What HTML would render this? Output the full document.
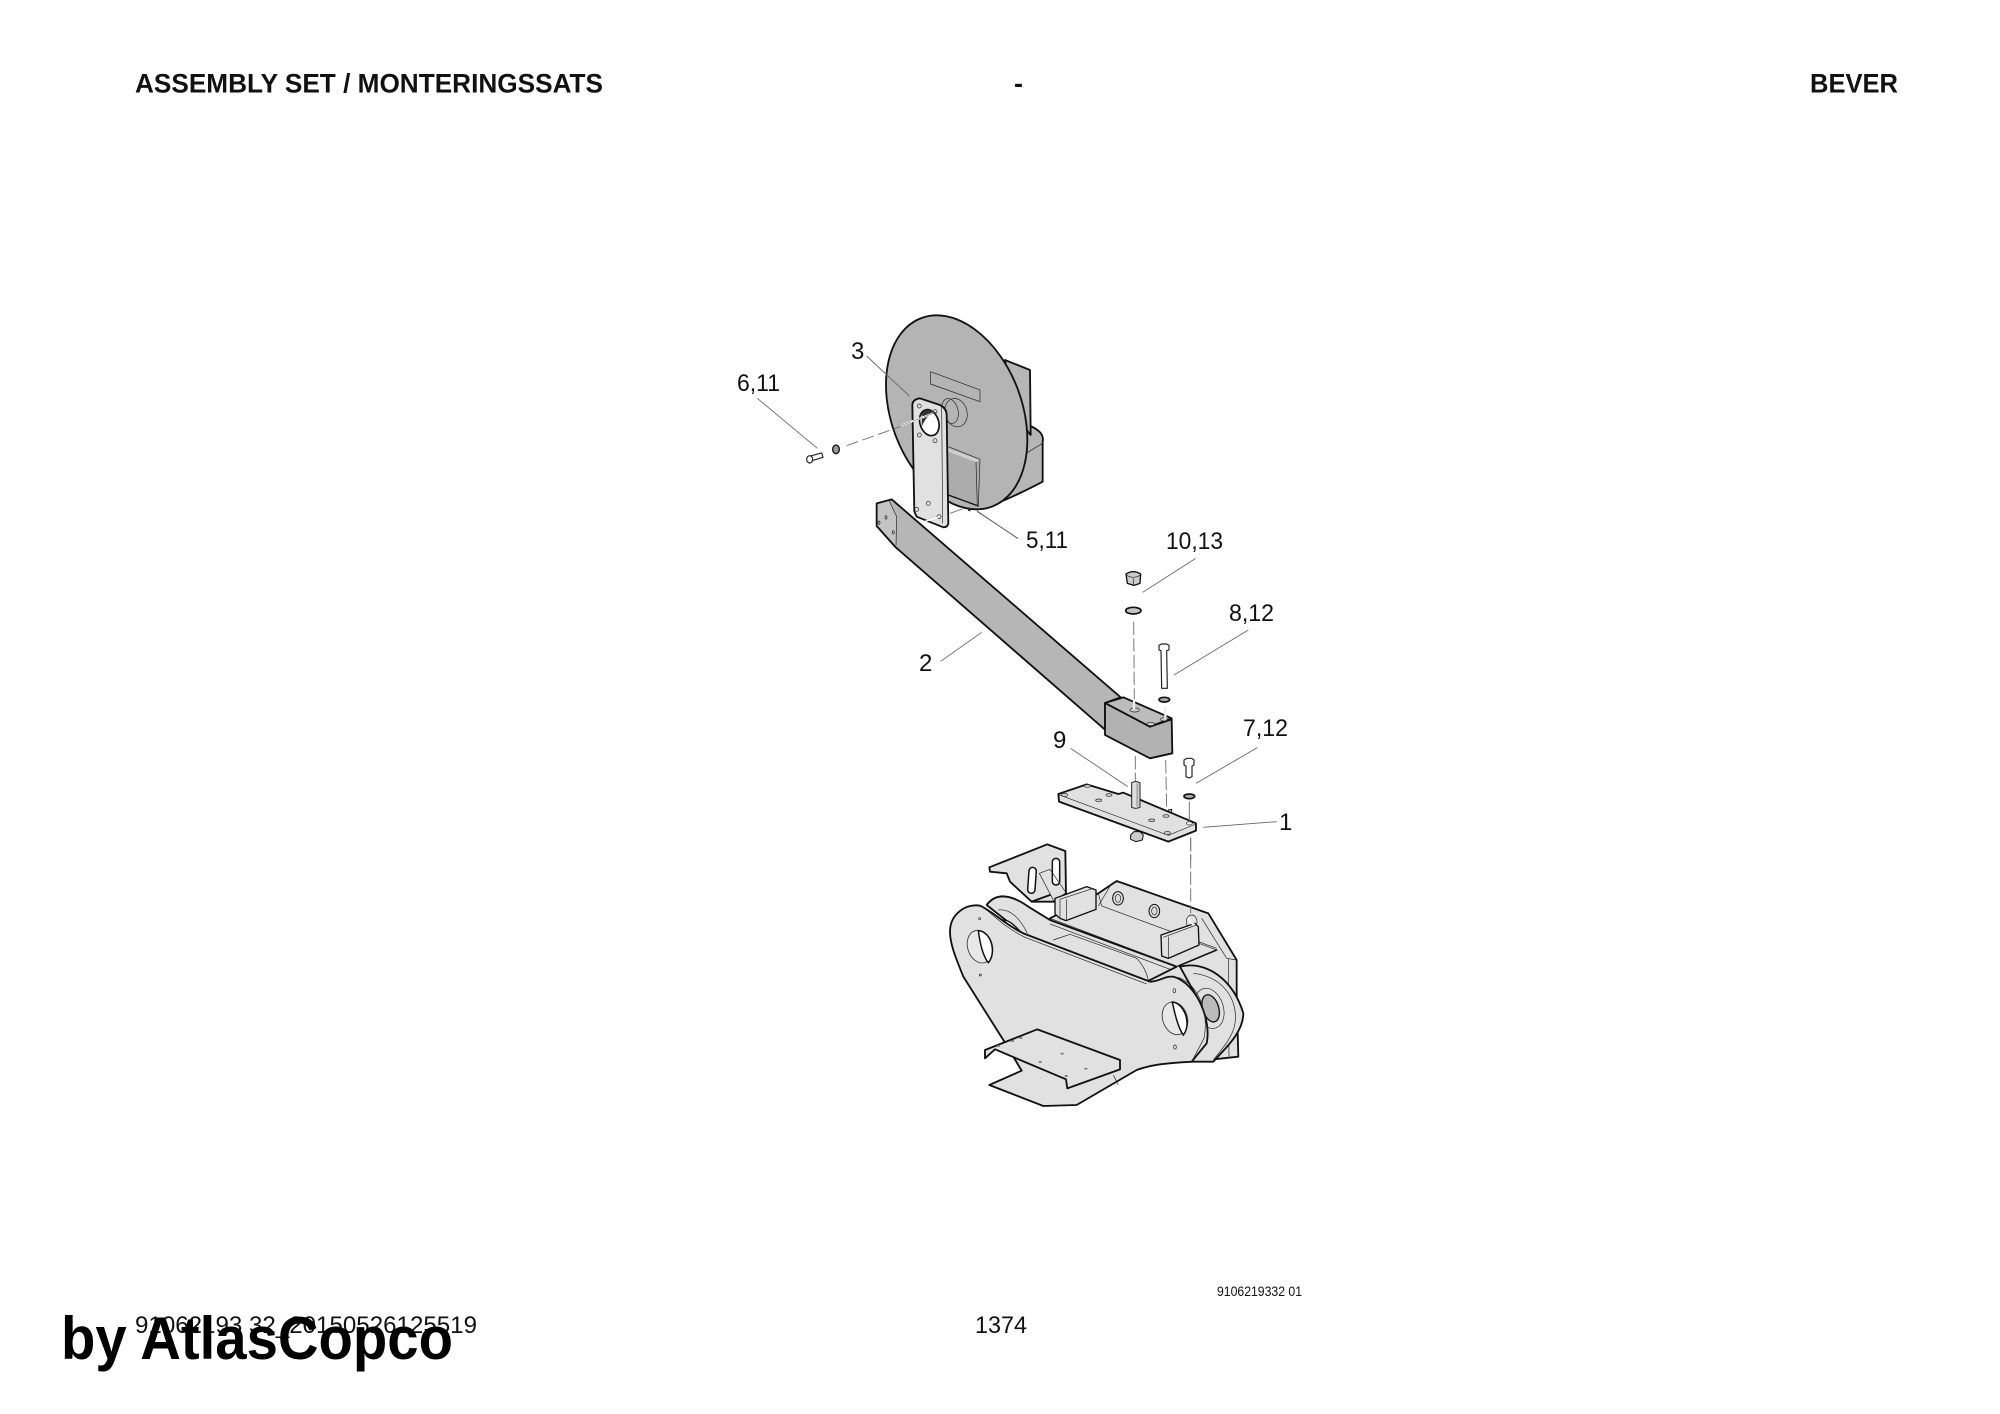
<!DOCTYPE html>
<html><head><meta charset="utf-8"><style>
html,body{margin:0;padding:0;background:#fff;width:2000px;height:1414px;overflow:hidden}
svg{display:block}
text{font-family:"Liberation Sans",sans-serif;fill:#111}
.k{stroke:#111;stroke-width:5.5;stroke-linejoin:round;stroke-linecap:round}
.t{stroke:#222;stroke-width:2;fill:none;stroke-linejoin:round}
.l{stroke:#666;stroke-width:2.6;fill:none}
.d{stroke:#777;stroke-width:3;stroke-dasharray:40 10;fill:none}
.w{stroke:#fff;stroke-width:6;fill:none}
.g{fill:#b6b6b6}.p{fill:#e1e1e1}
.h{fill:#ccc;stroke:#222;stroke-width:2}
</style></head><body>
<svg width="2000" height="1414" viewBox="0 0 2000 1414" xmlns="http://www.w3.org/2000/svg">
<rect width="2000" height="1414" fill="#fff"/>

<!-- disc assembly -->
<g transform="translate(720,300) scale(.33333)">
<path class="k g" d="M925,375C960,390 972,405 968,425L968,545C930,565 880,590 830,610L800,500Z"/>
<path class="t" d="M918,460L968,430"/>
<path class="k g" d="M855,180L930,210L932,405L880,340Z"/>
<ellipse class="k" cx="710" cy="337" rx="196" ry="302" transform="rotate(-20.6 710 337)" fill="#b4b4b4"/>
<path class="t" d="M632,215L780,270L780,305L632,252Z"/>
<ellipse cx="708" cy="338" rx="33" ry="43" fill="#c6c6c6" class="t" transform="rotate(-15 708 338)"/>
<ellipse cx="690" cy="333" rx="24" ry="38" fill="#ddd" class="t" transform="rotate(-15 690 333)"/>
<path d="M685,440L780,478L775,620L685,590Z" fill="#acacac"/>
<path class="t" d="M685,440L780,478L775,620"/>
<path d="M685,445L780,480L767,486L685,455Z" fill="#cfcfcf"/>
<path class="t" d="M768,486L772,618"/>
<path d="M685,585L775,618" stroke="#111" stroke-width="4"/>
<path d="M743,622L755,625L750,634L744,632Z" fill="#222"/>
<!-- bolt/washer -->
<path class="t" style="stroke-width:3.5" d="M272,468L305,459L309,472L276,482" fill="#ddd"/>
<ellipse class="t" style="stroke-width:3.5" cx="269" cy="478" rx="9" ry="11" fill="#ccc"/>
<ellipse cx="348" cy="448" rx="10" ry="13" fill="#999" stroke="#111" stroke-width="4"/>
<path class="d" d="M380,437L540,380" style="stroke-dasharray:36 14"/>
<path class="l" d="M440,168L568,288"/>
<path class="l" d="M112,295L292,445"/>
<path class="l" d="M772,635L895,716"/>
</g>

<!-- arm -->
<g transform="translate(860,500) scale(.33333)">
<path class="k g" d="M50,10L95,-2L782,592L735,609L735,689L105,140L50,78Z"/>
<path d="M53,13L88,3L110,50L108,136L53,76Z" fill="#c4c4c4"/>
<path class="t" d="M88,3L110,50L108,136"/>
<ellipse class="t" cx="57" cy="68" rx="3" ry="5"/><ellipse class="t" cx="78" cy="52" rx="3" ry="5"/><ellipse class="t" cx="100" cy="97" rx="3" ry="5"/>
</g>

<!-- plate on disc -->
<g transform="translate(720,300) scale(.33333)">
<path class="k p" d="M577,315Q578,298 600,295L660,315Q680,325 680,345L685,670Q683,682 670,682L590,650L583,635Z"/>
<path class="t" d="M665,320L668,670"/>
<ellipse cx="628" cy="368" rx="28" ry="40" fill="#fff" stroke="#111" stroke-width="5" transform="rotate(-18 628 368)"/>
<path d="M605,340Q625,320 650,340Q625,335 605,380Z" fill="#333"/>
<circle class="t" cx="598" cy="318" r="6"/><circle class="t" cx="645" cy="335" r="6"/><circle class="t" cx="598" cy="405" r="6"/><circle class="t" cx="645" cy="422" r="6"/><circle class="t" cx="590" cy="628" r="6"/><circle class="t" cx="625" cy="610" r="6"/><circle class="t" cx="657" cy="650" r="6"/>
<path class="w" d="M545,376L640,340"/>
<path class="d" d="M545,376L640,340" style="stroke-dasharray:30 6;stroke-width:2"/>
<path class="d" d="M690,640L730,626"/>
<path class="w" d="M615,664L655,652" style="stroke-width:4"/>
</g>

<!-- block and hardware -->
<g transform="translate(860,500) scale(.33333)">
<path class="k" fill="#b2b2b2" d="M735,609L870,680L935,658L937,760L870,775L735,705Z"/>
<path class="k" fill="#bcbcbc" d="M735,609L790,592L935,655L870,680Z"/>
<ellipse class="h" cx="824" cy="630" rx="14" ry="6"/><ellipse class="h" cx="872" cy="672" rx="11" ry="5"/><ellipse class="h" cx="912" cy="658" rx="10" ry="5"/>
<path d="M822,600V628M916,620V656" stroke="#eee" stroke-width="7" fill="none"/>
<!-- nut -->
<path class="k" fill="#ccc" style="stroke-width:4" d="M798,222Q820,208 842,222L840,250L822,256L802,250Z"/>
<path class="t" d="M800,226Q820,238 840,226M820,235V255"/>
<ellipse cx="820" cy="332" rx="23" ry="10" fill="#c4c4c4" stroke="#111" stroke-width="5"/>
<path class="d" d="M821,365L823,598"/>
<!-- long bolt -->
<path class="t" style="stroke-width:3.5" fill="#e8e8e8" d="M897,436L905,432H920L927,436V450L920,452L922,565H905L903,452L897,450Z"/>
<ellipse cx="913" cy="599" rx="16" ry="7" fill="#aaa" stroke="#111" stroke-width="5"/>
<path class="d" d="M826,768V845"/><path class="d" d="M917,780L920,925"/>
<!-- plate 1 -->
<path d="M925,930L935,928V946H925Z" fill="#ddd" stroke="#111" stroke-width="3"/>
<path class="k" fill="#ccc" style="stroke-width:3" d="M812,1005L822,995H840L850,1005L847,1020L828,1025L812,1018Z"/>
<path class="k p" d="M595,882L680,853L775,882L790,878L1008,970V992L925,1025L597,905Z"/>
<path class="t" d="M598,885L925,1006L1008,972"/>
<ellipse class="h" cx="614" cy="885" rx="9" ry="5"/><ellipse class="h" cx="682" cy="858" rx="9" ry="4"/><ellipse class="h" cx="747" cy="885" rx="9" ry="4"/><ellipse class="h" cx="716" cy="901" rx="9" ry="4"/><ellipse class="h" cx="875" cy="961" rx="9" ry="4"/><ellipse class="h" cx="918" cy="948" rx="9" ry="4"/><ellipse class="h" cx="922" cy="999" rx="9" ry="5"/><ellipse class="h" cx="988" cy="970" rx="9" ry="5" style="fill:#eee"/>
<path d="M815,848Q827,842 840,848V922Q827,928 815,922Z" fill="#ddd" stroke="#222" stroke-width="3"/>
<path d="M832,850V920" stroke="#aaa" stroke-width="6"/>
<!-- short bolt -->
<path class="t" style="stroke-width:3.5" fill="#ddd" d="M972,780L980,775H995L1002,780V795L996,798V830L987,834L978,830V798L972,795Z"/>
<ellipse cx="988" cy="889" rx="16" ry="7" fill="#aaa" stroke="#111" stroke-width="5"/>
<path d="M988,905V965" stroke="#777" stroke-width="3"/>
<path class="d" d="M992,1012V1080"/>
<!-- leaders -->
<path class="l" d="M632,745L803,860M1007,175L848,277M1165,390L942,525M1192,743L1008,850M1250,965L1030,982M365,397L242,484"/>
<path class="l" d="M350,32L472,115"/>
</g>

<!-- quick coupler -->
<g transform="translate(930,830) scale(.33333)">
<!-- bracket -->
<path class="k p" d="M178,112L352,43L406,63L408,190L375,215L305,215L240,155L230,130L180,125Z"/>
<rect x="295" y="112" width="22" height="78" rx="11" class="k" style="stroke-width:4.5" fill="#fff" transform="rotate(4 306 150)"/>
<rect x="367" y="85" width="22" height="80" rx="11" class="k" style="stroke-width:4.5" fill="#fff"/>
<path class="t" fill="#ddd" d="M328,130L360,118L408,188L375,220Z"/>
<path class="k" fill="none" d="M305,215L360,195"/>
<!-- rear body -->
<path class="k p" d="M360,265L505,190L560,153L835,250L920,390V500L925,680L785,695L650,450L360,320Z"/>
<path class="t" d="M515,228L860,355M815,265L890,385L920,390M895,385L897,680M505,190L515,228M545,160L505,228"/>
<ellipse class="k" style="stroke-width:3" cx="564" cy="205" rx="16" ry="20" fill="#ddd"/><ellipse class="t" cx="564" cy="205" rx="8" ry="12" fill="#fff"/>
<ellipse class="k" style="stroke-width:3" cx="673" cy="243" rx="16" ry="20" fill="#ddd"/><ellipse class="t" cx="673" cy="243" rx="8" ry="12" fill="#fff"/>
<ellipse class="t" cx="785" cy="275" rx="16" ry="20" fill="#eee"/>
<path d="M807,340L860,360L745,408L700,390Z" fill="#e1e1e1"/>
<path class="k" fill="none" style="stroke-width:4.5" d="M860,360L745,408"/>
<path class="t" d="M807,340L860,360"/>
<!-- rear lug band -->
<path class="k p" d="M170,225C200,185 245,195 295,230L360,270L740,410L650,455L290,320Z"/>
<path class="t" d="M360,265L730,405M360,282L720,418M370,330L420,313L620,385C640,405 650,430 655,450"/>
<path d="M205,240C240,235 270,265 292,310" stroke="#222" stroke-width="2" fill="none"/>
<path d="M220,270C240,270 262,295 270,305L245,295Z" fill="#fff" stroke="#111" stroke-width="4"/>
<!-- blocks -->
<path class="k p" style="stroke-width:4" d="M375,205L470,170L498,180V238L408,272L390,265L375,252Z"/>
<path class="t" d="M390,208L490,175M390,208V265M410,208V272"/>
<path class="k p" style="stroke-width:4" d="M693,315L795,280L805,290L807,345L715,385L695,378Z"/>
<path class="t" d="M700,322L800,285M715,320V385"/>
<path class="d" d="M782,25V250"/>
<path d="M775,262C778,275 785,285 795,283" stroke="#fff" stroke-width="5" fill="none"/>
<!-- right rear lug -->
<path class="k p" d="M750,410C830,390 910,450 940,550C940,610 880,660 850,695H785L800,500Z"/>
<path class="t" d="M790,430C880,440 925,510 915,580C910,620 870,665 850,690"/>
<ellipse cx="838" cy="535" rx="42" ry="62" fill="#e1e1e1" class="t" transform="rotate(-18 838 535)"/>
<ellipse cx="842" cy="535" rx="24" ry="42" fill="#bbb" stroke="#111" stroke-width="4" transform="rotate(-18 842 535)"/>
<!-- front plate -->
<path class="k p" d="M60,305C60,250 110,220 150,227C190,245 220,280 280,310L660,455C690,455 700,438 730,440C800,460 845,570 830,640L785,695C700,700 660,705 620,720L440,825L340,828L178,765L275,722L220,630L100,440C80,390 60,345 60,305Z"/>
<path class="t" d="M150,227C185,245 210,285 285,322L650,462M745,442C815,470 835,560 822,625L785,695M550,735L565,765"/>
<ellipse cx="150" cy="350" rx="37" ry="50" fill="#e8e8e8" stroke="#333" stroke-width="2.5" transform="rotate(-18 150 350)"/>
<path d="M145,302C185,305 200,370 175,398C160,380 150,340 145,302Z" fill="#fff" stroke="#111" stroke-width="4.5"/>
<ellipse cx="735" cy="565" rx="37" ry="50" fill="#e8e8e8" stroke="#333" stroke-width="2.5" transform="rotate(-18 735 565)"/>
<path d="M727,516C765,520 785,585 760,615C745,595 735,555 727,516Z" fill="#fff" stroke="#111" stroke-width="4.5"/>
<circle class="t" cx="149" cy="266" r="3" fill="#999"/><circle class="t" cx="151" cy="435" r="3" fill="#999"/>
<ellipse class="t" cx="733" cy="482" rx="4" ry="6"/><ellipse class="t" cx="735" cy="651" rx="4" ry="6"/>
<!-- tray -->
<path class="k p" d="M165,660L322,598L570,690V718L412,775L408,748L195,658L165,685Z"/>
<path d="M200,648h9M243,633h9M268,624h9M326,696h9M392,671h9M463,716h9M404,738h9" stroke="#777" stroke-width="5" fill="none"/>
</g>

<!-- part labels -->
<g font-size="24">
<text x="851" y="359">3</text>
<text x="737" y="391" textLength="43" lengthAdjust="spacingAndGlyphs">6,11</text>
<text x="1026" y="548" textLength="42" lengthAdjust="spacingAndGlyphs">5,11</text>
<text x="1166" y="549" textLength="57" lengthAdjust="spacingAndGlyphs">10,13</text>
<text x="1229" y="621" textLength="45" lengthAdjust="spacingAndGlyphs">8,12</text>
<text x="1243" y="736" textLength="45" lengthAdjust="spacingAndGlyphs">7,12</text>
<text x="1053" y="748">9</text>
<text x="1279" y="830">1</text>
<text x="919" y="671">2</text>
</g>

<!-- header -->
<g font-size="27" font-weight="bold">
<text x="135" y="92.5" textLength="468" lengthAdjust="spacingAndGlyphs">ASSEMBLY SET / MONTERINGSSATS</text>
<text x="1014" y="92.5">-</text>
<text x="1810" y="92.5" textLength="88" lengthAdjust="spacingAndGlyphs">BEVER</text>
</g>

<!-- footer -->
<text x="1217" y="1296" font-size="14" textLength="85" lengthAdjust="spacingAndGlyphs">9106219332 01</text>
<text x="135" y="1333" font-size="24" textLength="342" lengthAdjust="spacingAndGlyphs">91062193 32_20150526125519</text>
<text x="975" y="1333" font-size="24" textLength="52" lengthAdjust="spacingAndGlyphs">1374</text>
<text x="61" y="1359" font-size="60" font-weight="bold" textLength="392" lengthAdjust="spacingAndGlyphs" style="fill:#000">by AtlasCopco</text>
</svg>
</body></html>
